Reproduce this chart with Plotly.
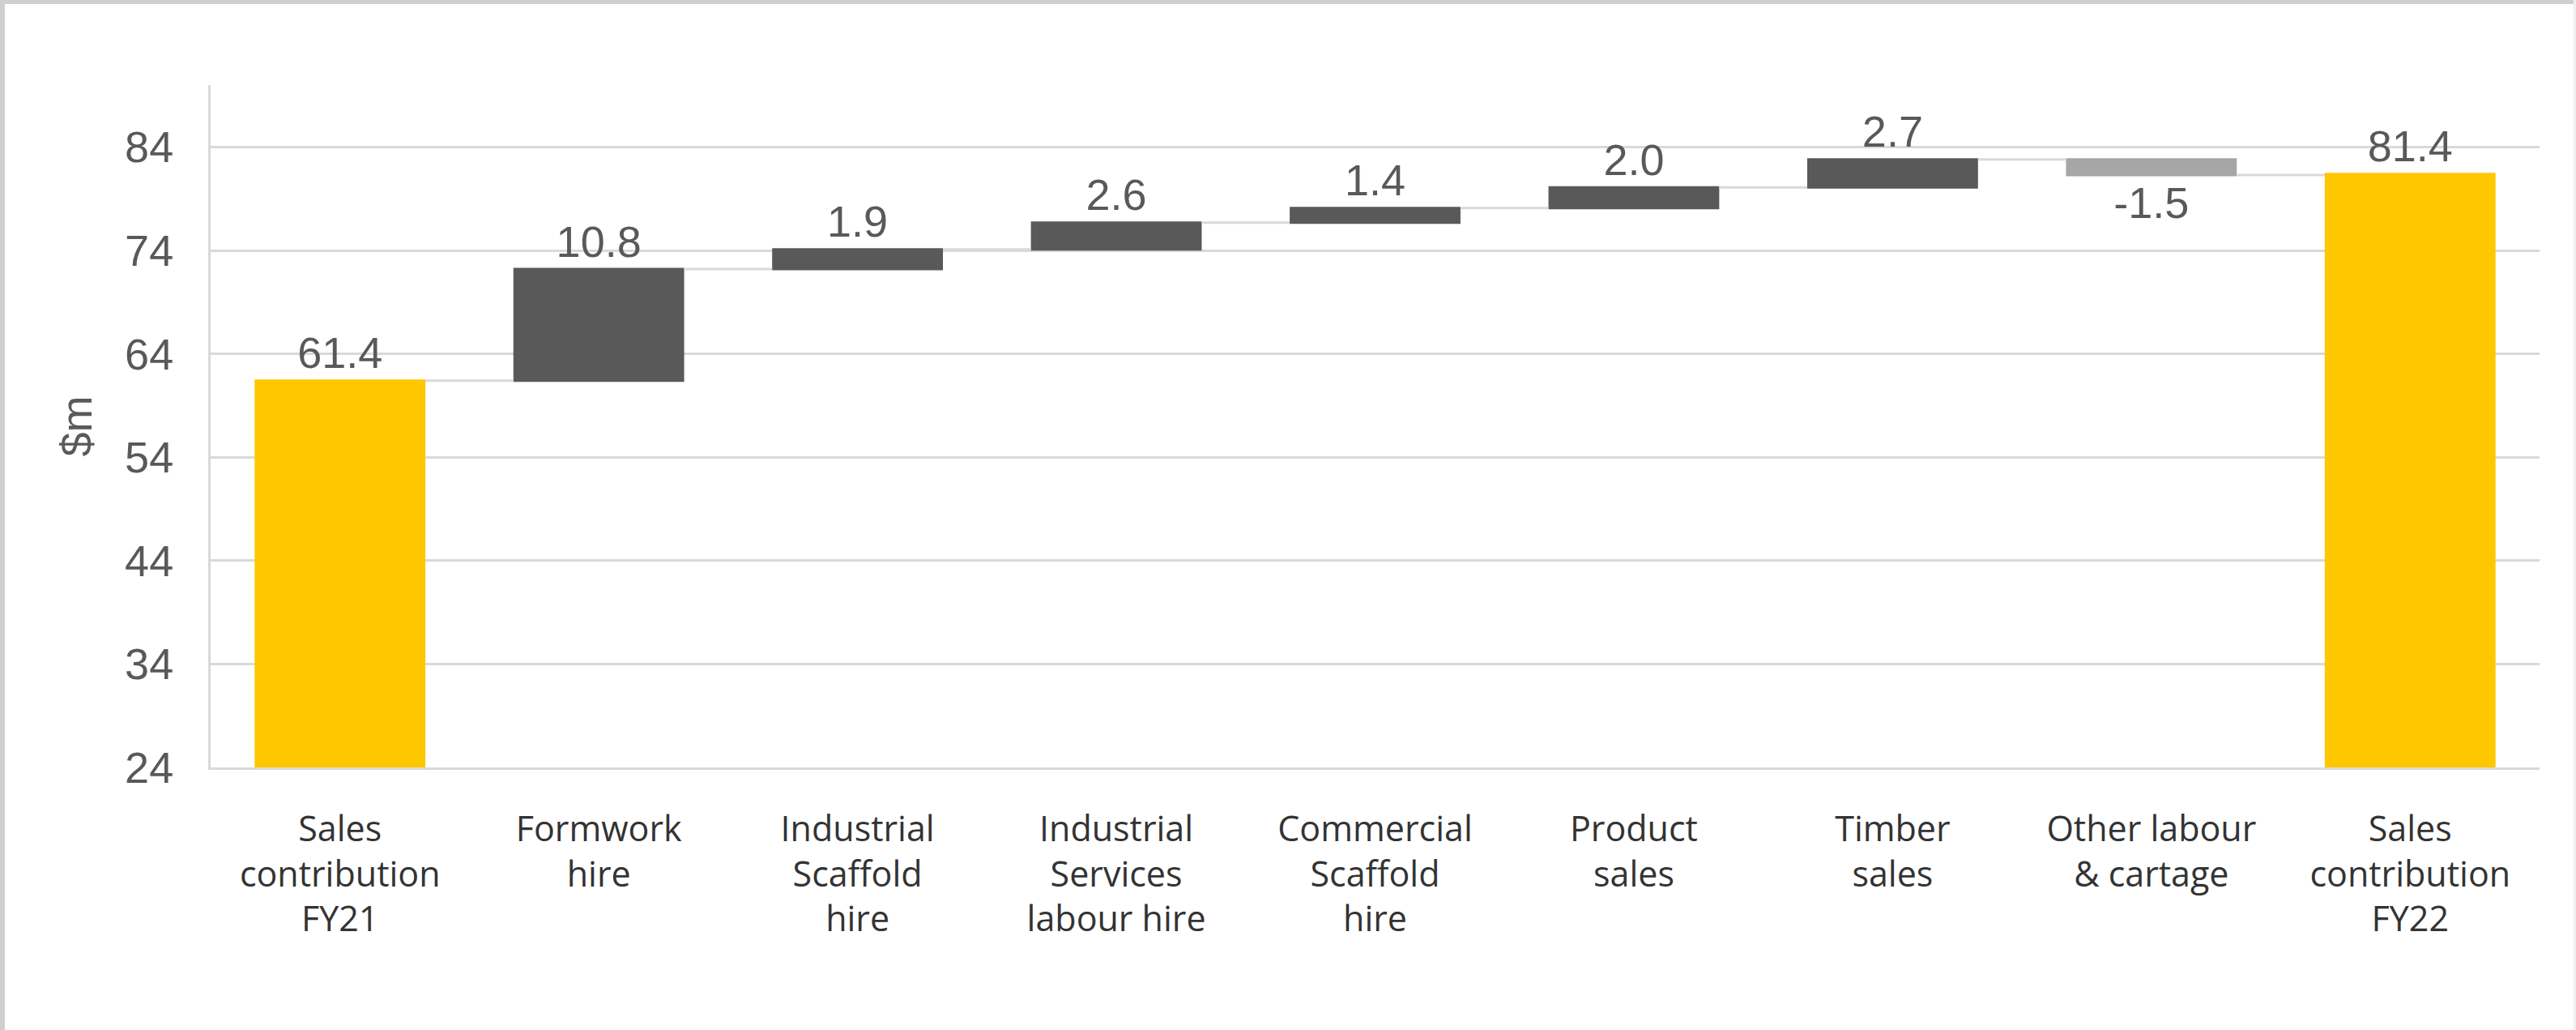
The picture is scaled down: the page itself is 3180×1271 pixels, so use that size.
import plotly.graph_objects as go

# ---- data ----
categories = [
    "Sales<br>contribution<br>FY21",
    "Formwork<br>hire",
    "Industrial<br>Scaffold<br>hire",
    "Industrial<br>Services<br>labour hire",
    "Commercial<br>Scaffold<br>hire",
    "Product<br>sales",
    "Timber<br>sales",
    "Other labour<br>& cartage",
    "Sales<br>contribution<br>FY22",
]
values = [61.4, 10.8, 1.9, 2.6, 1.4, 2.0, 2.7, -1.5, 81.4]
measures = ["absolute", "relative", "relative", "relative", "relative",
            "relative", "relative", "relative", "absolute"]
y_ticks = [24, 34, 44, 54, 64, 74, 84]
y_range = [24, 90]
y_title = "$m"

# ---- layout constants ----
W, H = 3180, 1271
L, R, T, B = 260, 45, 105, 324
PW, PH = W - L - R, H - T - B

YELLOW = "#FFC700"
DARK = "#595959"
LIGHT = "#A6A6A6"
GRID = "#D9D9D9"
LABEL = "#595959"

fig = go.Figure()
fig.add_trace(go.Waterfall(
    x=categories,
    y=values,
    measure=measures,
    text=[f"{v:.1f}" for v in values],
    textposition="outside",
    constraintext="none",
    cliponaxis=False,
    textfont=dict(family="Liberation Sans, Arial", size=54, color=LABEL),
    increasing=dict(marker=dict(color=DARK)),
    decreasing=dict(marker=dict(color=LIGHT)),
    totals=dict(marker=dict(color=YELLOW)),
    connector=dict(line=dict(color=GRID, width=3), mode="between"),
    width=0.66,
    hoverinfo="skip",
))

# thin grey frame pieces (screenshot border)
def px_x(px):
    return (px - L) / PW

def px_y(py):
    return (H - B - py) / PH

shapes = [
    dict(type="rect", xref="paper", yref="paper", layer="above",
         x0=px_x(0), x1=px_x(W), y0=px_y(5), y1=px_y(0),
         fillcolor="#CFCFCF", line=dict(width=0)),
    dict(type="rect", xref="paper", yref="paper", layer="above",
         x0=px_x(0), x1=px_x(6), y0=px_y(H), y1=px_y(0),
         fillcolor="#CFCFCF", line=dict(width=0)),
    dict(type="rect", xref="paper", yref="paper", layer="above",
         x0=px_x(W - 3), x1=px_x(W), y0=px_y(H), y1=px_y(0),
         fillcolor="#EFEFEF", line=dict(width=0)),
]

fig.update_layout(
    width=W, height=H,
    margin=dict(l=L, r=R, t=T, b=B, autoexpand=False),
    paper_bgcolor="white",
    plot_bgcolor="white",
    showlegend=False,
    shapes=shapes,
    xaxis=dict(
        showgrid=False,
        showline=True, linecolor=GRID, linewidth=3,
        tickfont=dict(family="Open Sans", size=43, color="#333333"),
        ticks="", ticklabelstandoff=36,
        fixedrange=True,
    ),
    yaxis=dict(
        range=y_range,
        tickvals=y_ticks,
        showgrid=True, gridcolor=GRID, gridwidth=3,
        showline=True, linecolor=GRID, linewidth=3,
        zeroline=False,
        tickfont=dict(family="Liberation Sans, Arial", size=54, color=LABEL),
        ticks="", ticklabelstandoff=32,
        title=dict(text=y_title, standoff=24,
                   font=dict(family="Liberation Sans, Arial", size=54, color=LABEL)),
        fixedrange=True,
    ),
)

fig.write_html("out.html")
